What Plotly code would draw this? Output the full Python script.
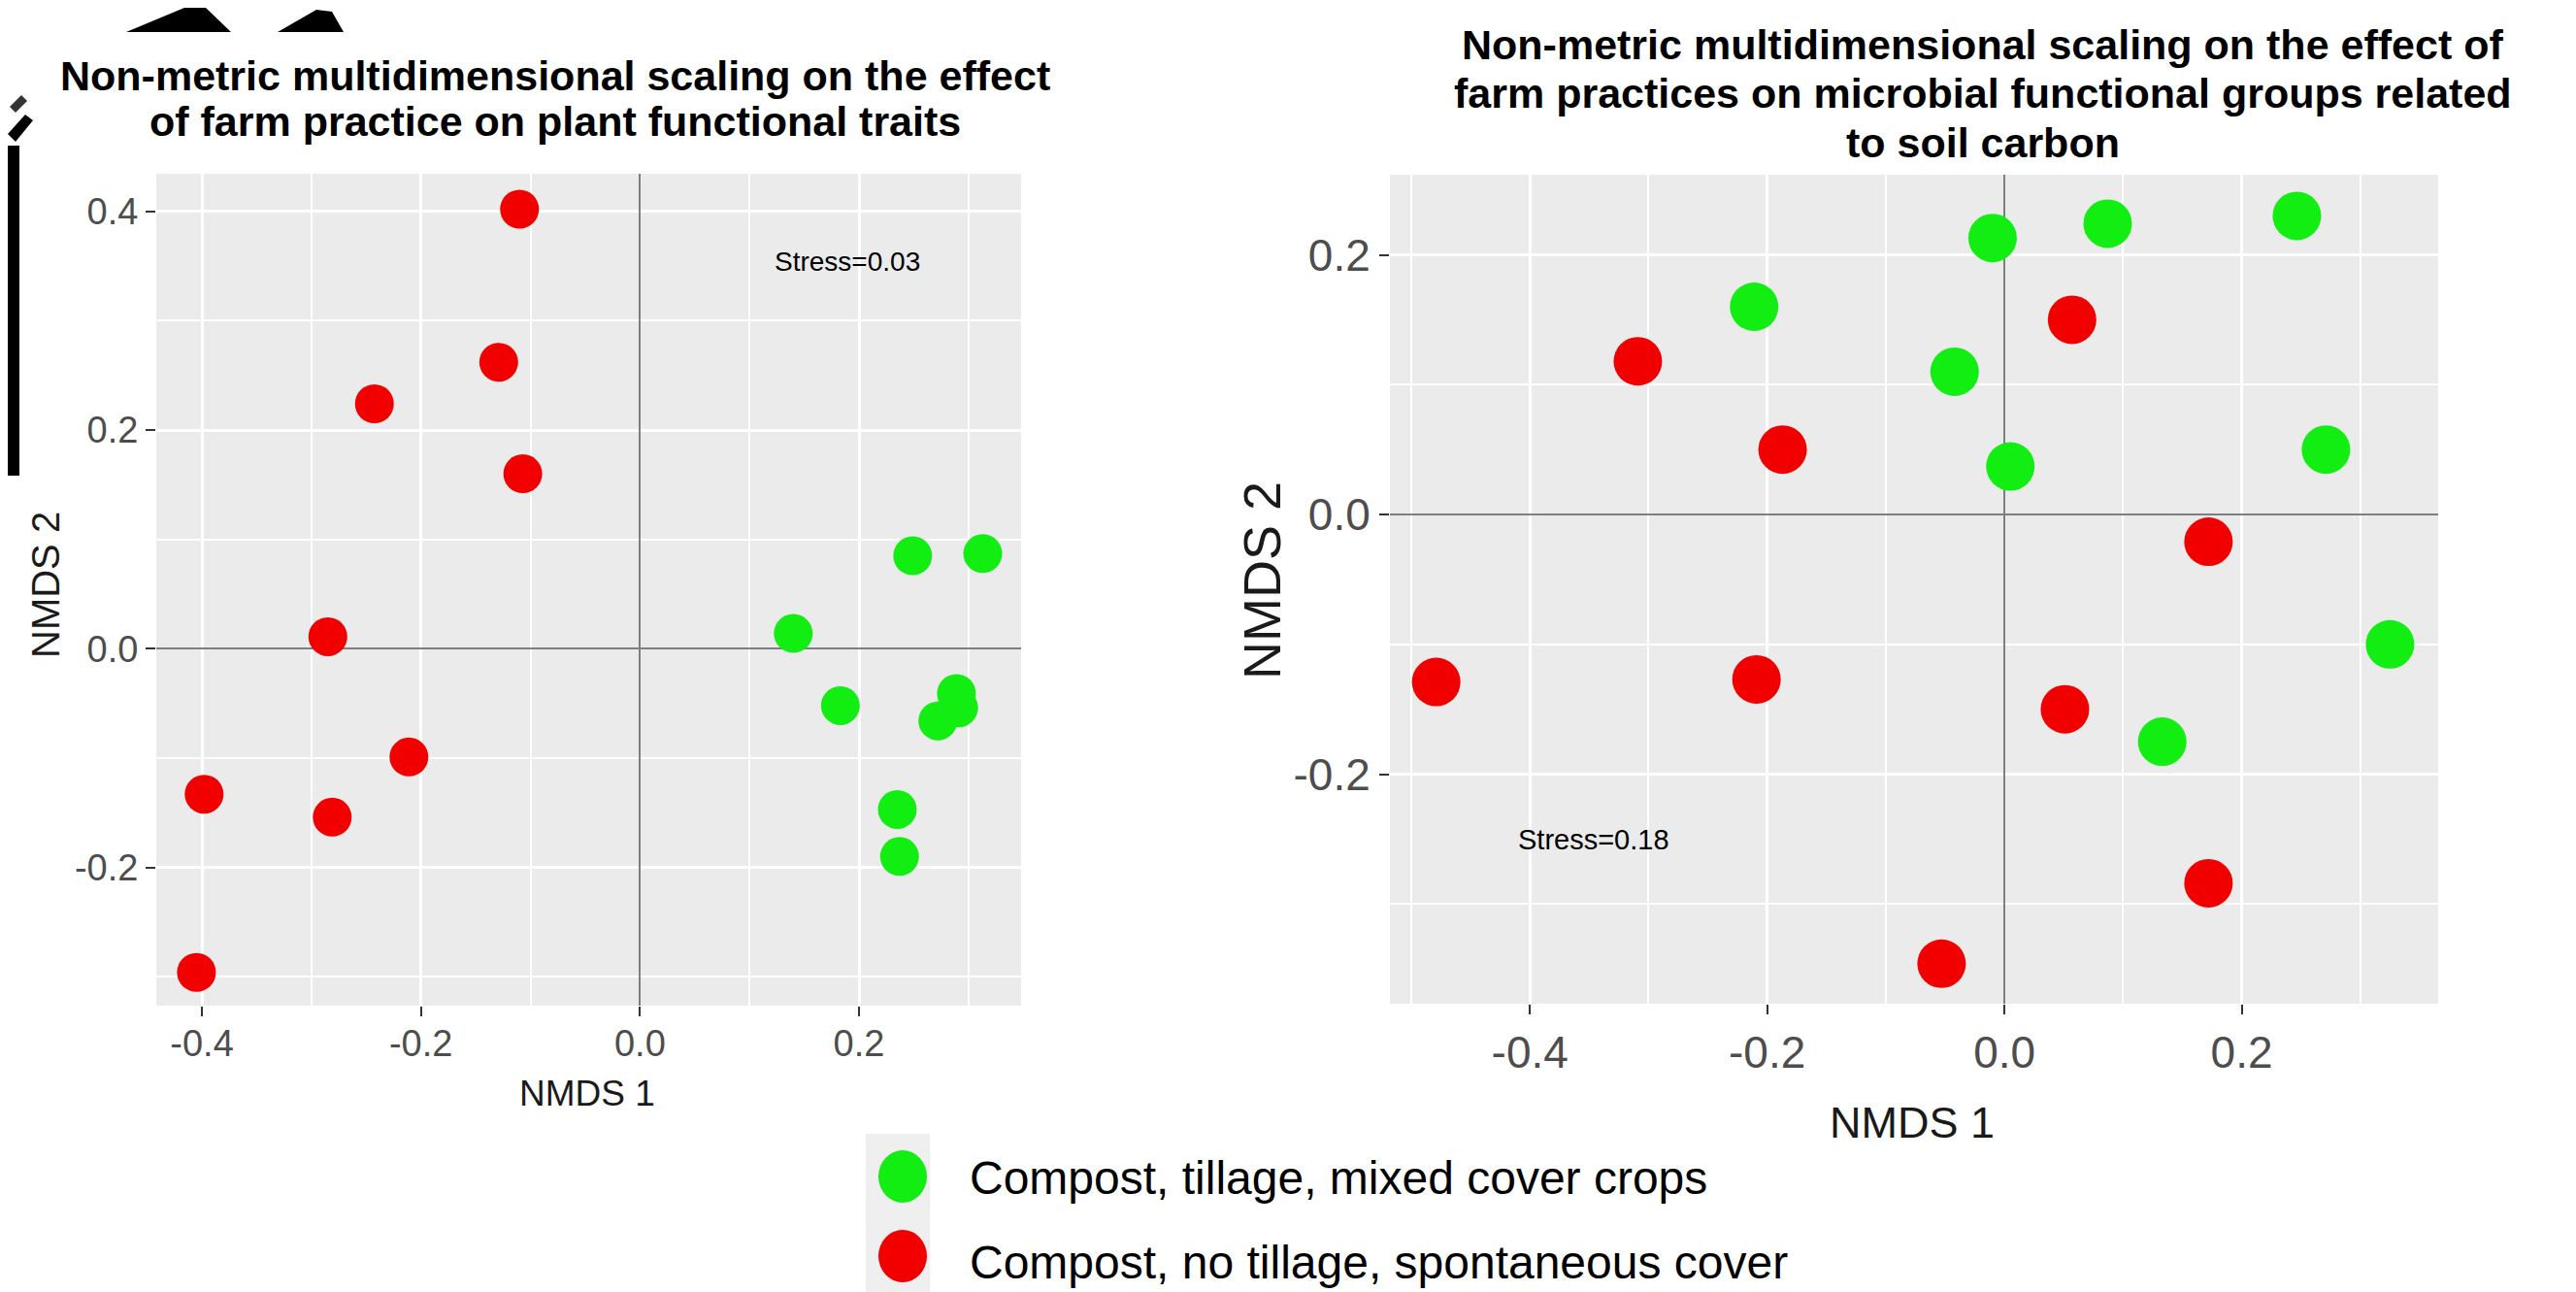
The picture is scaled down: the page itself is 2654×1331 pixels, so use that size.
import plotly.graph_objects as go

W, H = 2654, 1331
OFF = 8  # page body margin of the html page
FW, FH = W - OFF, H - OFF
FONT = "Liberation Sans, Arial, Helvetica, sans-serif"

# ---------------- data ----------------
group_names = ["Compost, tillage, mixed cover crops", "Compost, no tillage, spontaneous cover"]
group_colors = ["#12ee12", "#f20000"]

# Left panel: plant functional traits
left_green_x = [0.249, 0.313, 0.140, 0.183, 0.289, 0.291, 0.272, 0.235, 0.237]
left_green_y = [0.085, 0.087, 0.014, -0.052, -0.041, -0.054, -0.066, -0.147, -0.190]
left_red_x = [-0.110, -0.129, -0.2425, -0.107, -0.285, -0.211, -0.398, -0.281, -0.405]
left_red_y = [0.402, 0.262, 0.224, 0.160, 0.011, -0.099, -0.133, -0.154, -0.296]
left_stress = "Stress=0.03"

# Right panel: microbial functional groups
right_green_x = [-0.010, 0.087, 0.2465, -0.211, -0.042, 0.005, 0.271, 0.325, 0.133]
right_green_y = [0.213, 0.224, 0.230, 0.160, 0.110, 0.037, 0.050, -0.100, -0.175]
right_red_x = [0.057, -0.309, -0.187, 0.172, -0.479, -0.209, 0.051, 0.172, -0.053]
right_red_y = [0.150, 0.118, 0.050, -0.021, -0.129, -0.127, -0.150, -0.284, -0.346]
right_stress = "Stress=0.18"

# ticks
x_tick_vals = [-0.4, -0.2, 0.0, 0.2]
x_tick_text = ["-0.4", "-0.2", "0.0", "0.2"]
left_y_tick_vals = [-0.2, 0.0, 0.2, 0.4]
left_y_tick_text = ["-0.2", "0.0", "0.2", "0.4"]
right_y_tick_vals = [-0.2, 0.0, 0.2]
right_y_tick_text = ["-0.2", "0.0", "0.2"]
left_x_minor = [-0.3, -0.1, 0.1, 0.3]
left_y_minor = [-0.3, -0.1, 0.1, 0.3]
right_x_minor = [-0.5, -0.3, -0.1, 0.1, 0.3]
right_y_minor = [-0.3, -0.1, 0.1]

left_title_lines = ["Non-metric multidimensional scaling on the effect",
                    "of farm practice on plant functional traits"]
right_title_lines = ["Non-metric multidimensional scaling on the effect of",
                     "farm practices on microbial functional groups related",
                     "to soil carbon"]
x_title = "NMDS 1"
y_title = "NMDS 2"


def px(x):
    return (x - OFF) / FW


def py(y):
    return 1 - (y - OFF) / FH


def axis(domain, rng, tickvals, ticktext, minor_vals, fsize, standoff=0):
    return dict(domain=domain, range=rng, tickvals=tickvals, ticktext=ticktext,
                showgrid=True, gridcolor="white", gridwidth=3,
                minor=dict(tickvals=minor_vals, showgrid=True, gridcolor="white",
                           gridwidth=1.5, ticks=""),
                zeroline=True, zerolinecolor="#7f7f7f", zerolinewidth=2,
                ticks="outside", ticklen=10, tickwidth=2, tickcolor="#333333",
                ticklabelstandoff=standoff,
                tickfont=dict(family=FONT, size=fsize, color="#4d4d4d"),
                showline=False, fixedrange=True)


fig = go.Figure()

fig.add_trace(go.Scatter(x=left_green_x, y=left_green_y, mode="markers",
                         marker=dict(size=40, color=group_colors[0]),
                         name=group_names[0], xaxis="x", yaxis="y"))
fig.add_trace(go.Scatter(x=left_red_x, y=left_red_y, mode="markers",
                         marker=dict(size=40, color=group_colors[1]),
                         name=group_names[1], xaxis="x", yaxis="y"))
fig.add_trace(go.Scatter(x=right_green_x, y=right_green_y, mode="markers",
                         marker=dict(size=50, color=group_colors[0]),
                         name=group_names[0], xaxis="x2", yaxis="y2"))
fig.add_trace(go.Scatter(x=right_red_x, y=right_red_y, mode="markers",
                         marker=dict(size=50, color=group_colors[1]),
                         name=group_names[1], xaxis="x2", yaxis="y2"))

ann = []
# titles
for i, t in enumerate(left_title_lines):
    ann.append(dict(text="<b>%s</b>" % t, x=px(572), y=py([78, 125][i]), xref="paper", yref="paper",
                    xanchor="center", yanchor="middle", showarrow=False,
                    font=dict(family=FONT, size=43, color="black")))
for i, t in enumerate(right_title_lines):
    ann.append(dict(text="<b>%s</b>" % t, x=px(2043), y=py([46, 96, 147][i]), xref="paper", yref="paper",
                    xanchor="center", yanchor="middle", showarrow=False,
                    font=dict(family=FONT, size=43, color="black")))
# axis titles
ann.append(dict(text=x_title, x=px(605), y=py(1126), xref="paper", yref="paper", showarrow=False,
                xanchor="center", yanchor="middle", font=dict(family=FONT, size=37, color="#1a1a1a")))
ann.append(dict(text=y_title, x=px(47), y=py(603), xref="paper", yref="paper", showarrow=False,
                textangle=-90, xanchor="center", yanchor="middle",
                font=dict(family=FONT, size=40, color="#1a1a1a")))
ann.append(dict(text=x_title, x=px(1970), y=py(1156), xref="paper", yref="paper", showarrow=False,
                xanchor="center", yanchor="middle", font=dict(family=FONT, size=45, color="#1a1a1a")))
ann.append(dict(text=y_title, x=px(1300), y=py(598), xref="paper", yref="paper", showarrow=False,
                textangle=-90, xanchor="center", yanchor="middle",
                font=dict(family=FONT, size=54, color="#1a1a1a")))
# stress
ann.append(dict(text=left_stress, x=0.189, y=0.3545, xref="x", yref="y", showarrow=False,
                font=dict(family=FONT, size=28, color="black")))
ann.append(dict(text=right_stress, x=-0.346, y=-0.2506, xref="x2", yref="y2", showarrow=False,
                font=dict(family=FONT, size=29, color="black")))
# legend text
for i, name in enumerate(group_names):
    ann.append(dict(text=name, x=px(997), y=py([1213, 1300][i]), xref="paper", yref="paper",
                    xanchor="left", yanchor="middle", showarrow=False,
                    font=dict(family=FONT, size=48, color="black")))

shapes = []
# legend key background and keys
shapes.append(dict(type="rect", xref="paper", yref="paper", x0=px(892), x1=px(958),
                   y0=py(1331), y1=py(1168), fillcolor="#efefef", line=dict(width=0), layer="below"))
for i, c in enumerate(group_colors):
    cy = [1212, 1294][i]
    shapes.append(dict(type="circle", xref="paper", yref="paper", x0=px(905), x1=px(955),
                       y0=py(cy + 27), y1=py(cy - 27), fillcolor=c, line=dict(width=0)))


def poly(pts, color):
    d = "M " + " L ".join("%f,%f" % (px(a), py(b)) for a, b in pts) + " Z"
    return dict(type="path", xref="paper", yref="paper", path=d, fillcolor=color,
                line=dict(width=0))


# decorative black fragments in the top-left corner of the source image
shapes.append(poly([(130, 33), (190, 8), (212, 8), (238, 33)], "black"))
shapes.append(poly([(286, 33), (326, 10), (342, 12), (354, 33)], "black"))
shapes.append(poly([(8, 150), (20, 150), (20, 490), (8, 490)], "black"))
shapes.append(poly([(8, 138), (26, 118), (34, 124), (16, 146)], "black"))
shapes.append(poly([(10, 110), (22, 98), (28, 104), (16, 116)], "#333333"))

fig.update_layout(
    width=FW, height=FH, margin=dict(l=0, r=0, t=0, b=0),
    paper_bgcolor="white", plot_bgcolor="#EBEBEB", showlegend=False,
    xaxis=axis([px(161), px(1052)], [-0.4417, 0.348], x_tick_vals, x_tick_text, left_x_minor, 38, -5),
    yaxis=axis([py(1036), py(179)], [-0.3264, 0.4344], left_y_tick_vals, left_y_tick_text, left_y_minor, 38),
    xaxis2=axis([px(1432), px(2512)], [-0.518, 0.3656], x_tick_vals, x_tick_text, right_x_minor, 46),
    yaxis2=axis([py(1034), py(180)], [-0.3768, 0.2617], right_y_tick_vals, right_y_tick_text, right_y_minor, 46),
    annotations=ann, shapes=shapes,
)
fig.update_layout(xaxis2=dict(anchor="y2"), yaxis2=dict(anchor="x2"))

fig.write_html("out.html")
